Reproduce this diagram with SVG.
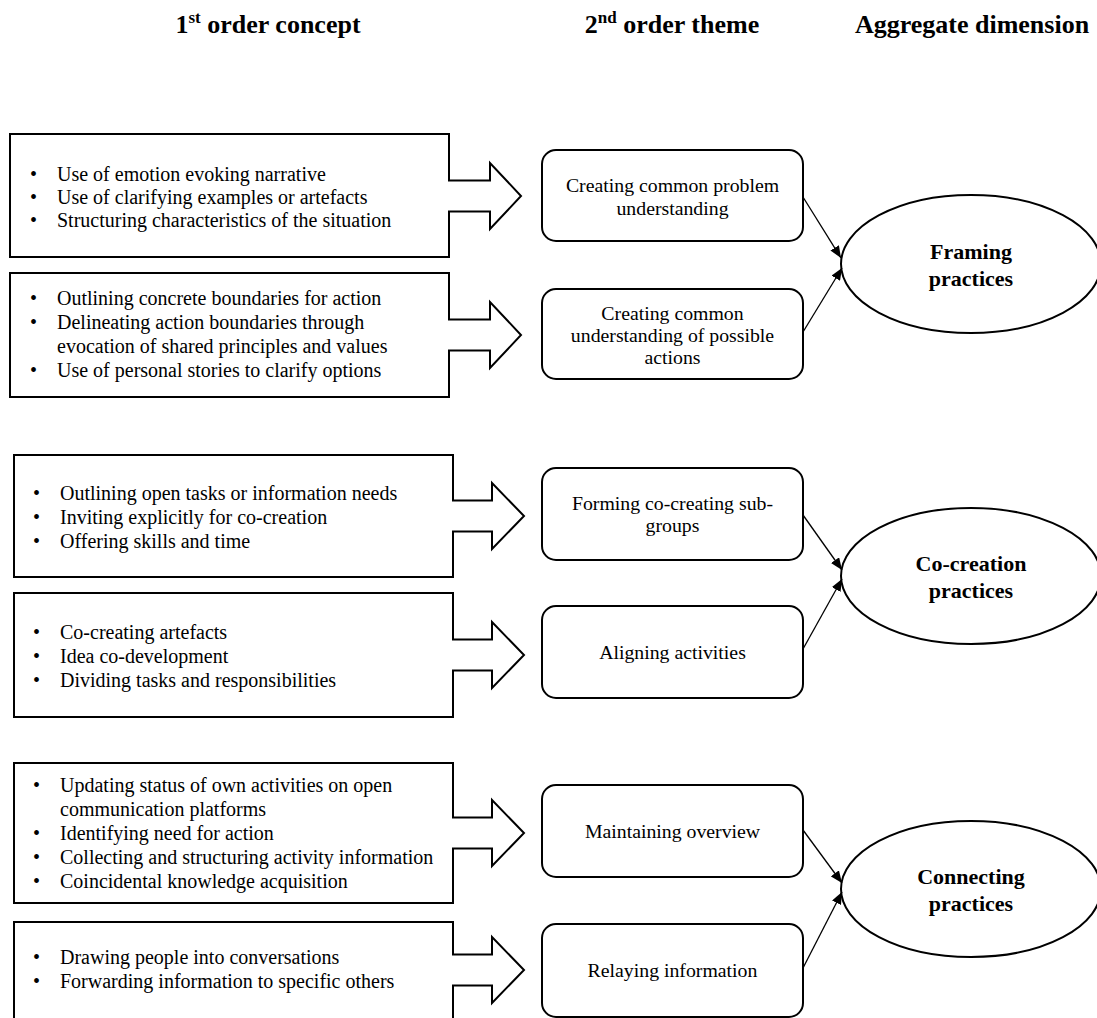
<svg xmlns="http://www.w3.org/2000/svg" width="1097" height="1018" viewBox="0 0 1097 1018">
<style>
  text { font-family: "Liberation Serif", "Times New Roman", serif; fill: #000; }
  .hdr { font-size: 26px; font-weight: bold; text-anchor: middle; }
  .sup { font-size: 17px; }
  .body { font-size: 20px; }
  .theme { font-size: 19.8px; text-anchor: middle; }
  .agg { font-size: 22px; font-weight: bold; text-anchor: middle; }
  .box { fill: #fff; stroke: #000; stroke-width: 2; stroke-linejoin: miter; }
  .rbox { fill: #fff; stroke: #000; stroke-width: 2; }
  .ell { fill: #fff; stroke: #000; stroke-width: 2; }
  .conn { stroke: #000; stroke-width: 1.3; fill: none; marker-end: url(#ah); }
</style>
<defs>
  <marker id="ah" viewBox="0 0 12 10" refX="12" refY="5" markerWidth="12" markerHeight="10" orient="auto" markerUnits="userSpaceOnUse">
    <path d="M0,0 L12,5 L0,10 Z" fill="#000"/>
  </marker>
</defs>
<rect width="1097" height="1018" fill="#fff"/>

<g id="headers">
  <text class="hdr" x="268" y="33">1<tspan class="sup" dy="-10">st</tspan><tspan dy="10"> order concept</tspan></text>
  <text class="hdr" x="672" y="33">2<tspan class="sup" dy="-10">nd</tspan><tspan dy="10"> order theme</tspan></text>
  <text class="hdr" x="972" y="33">Aggregate dimension</text>
</g>

<!-- First order concepts -->
<g id="c1">
  <path class="box" d="M10,134 H449 V180.5 H490 V163 L521,196 L490,229 V211.5 H449 V257 H10 Z"/>
  <text class="body" x="30" y="181">•</text><text class="body" x="57" y="181">Use of emotion evoking narrative</text>
  <text class="body" x="30" y="204">•</text><text class="body" x="57" y="204">Use of clarifying examples or artefacts</text>
  <text class="body" x="30" y="227">•</text><text class="body" x="57" y="227">Structuring characteristics of the situation</text>
</g>
<g id="c2">
  <path class="box" d="M10,273 H449 V319.5 H490 V302 L521,335 L490,368 V350.5 H449 V397 H10 Z"/>
  <text class="body" x="30" y="305">•</text><text class="body" x="57" y="305">Outlining concrete boundaries for action</text>
  <text class="body" x="30" y="329">•</text><text class="body" x="57" y="329">Delineating action boundaries through</text>
  <text class="body" x="57" y="353">evocation of shared principles and values</text>
  <text class="body" x="30" y="377">•</text><text class="body" x="57" y="377">Use of personal stories to clarify options</text>
</g>
<g id="c3">
  <path class="box" d="M14,455 H453 V500.5 H492 V483 L524,516 L492,549 V531.5 H453 V577 H14 Z"/>
  <text class="body" x="33" y="500">•</text><text class="body" x="60" y="500">Outlining open tasks or information needs</text>
  <text class="body" x="33" y="524">•</text><text class="body" x="60" y="524">Inviting explicitly for co-creation</text>
  <text class="body" x="33" y="548">•</text><text class="body" x="60" y="548">Offering skills and time</text>
</g>
<g id="c4">
  <path class="box" d="M14,593 H453 V639.5 H492 V622 L524,655 L492,688 V670.5 H453 V717 H14 Z"/>
  <text class="body" x="33" y="639">•</text><text class="body" x="60" y="639">Co-creating artefacts</text>
  <text class="body" x="33" y="663">•</text><text class="body" x="60" y="663">Idea co-development</text>
  <text class="body" x="33" y="687">•</text><text class="body" x="60" y="687">Dividing tasks and responsibilities</text>
</g>
<g id="c5">
  <path class="box" d="M14,763 H453 V817.5 H492 V800 L524,833 L492,866 V848.5 H453 V903 H14 Z"/>
  <text class="body" x="33" y="792">•</text><text class="body" x="60" y="792">Updating status of own activities on open</text>
  <text class="body" x="60" y="816">communication platforms</text>
  <text class="body" x="33" y="840">•</text><text class="body" x="60" y="840">Identifying need for action</text>
  <text class="body" x="33" y="864">•</text><text class="body" x="60" y="864">Collecting and structuring activity information</text>
  <text class="body" x="33" y="888">•</text><text class="body" x="60" y="888">Coincidental knowledge acquisition</text>
</g>
<g id="c6">
  <path class="box" d="M14,922 H453 V954.5 H492 V937 L524,970 L492,1003 V985.5 H453 V1030 H14 Z"/>
  <text class="body" x="33" y="964">•</text><text class="body" x="60" y="964">Drawing people into conversations</text>
  <text class="body" x="33" y="988">•</text><text class="body" x="60" y="988">Forwarding information to specific others</text>
</g>

<!-- Second order themes -->
<g id="t1">
  <rect class="rbox" x="542" y="150" width="261" height="91" rx="14"/>
  <text class="theme" x="672.5" y="192">Creating common problem</text>
  <text class="theme" x="672.5" y="215">understanding</text>
</g>
<g id="t2">
  <rect class="rbox" x="542" y="289" width="261" height="90" rx="14"/>
  <text class="theme" x="672.5" y="320">Creating common</text>
  <text class="theme" x="672.5" y="342">understanding of possible</text>
  <text class="theme" x="672.5" y="364">actions</text>
</g>
<g id="t3">
  <rect class="rbox" x="542" y="468" width="261" height="92" rx="14"/>
  <text class="theme" x="672.5" y="510">Forming co-creating sub-</text>
  <text class="theme" x="672.5" y="532">groups</text>
</g>
<g id="t4">
  <rect class="rbox" x="542" y="606" width="261" height="92" rx="14"/>
  <text class="theme" x="672.5" y="659">Aligning activities</text>
</g>
<g id="t5">
  <rect class="rbox" x="542" y="785" width="261" height="92" rx="14"/>
  <text class="theme" x="672.5" y="838">Maintaining overview</text>
</g>
<g id="t6">
  <rect class="rbox" x="542" y="924" width="261" height="93" rx="14"/>
  <text class="theme" x="672.5" y="977">Relaying information</text>
</g>

<!-- Aggregate dimensions -->
<g id="a1">
  <ellipse class="ell" cx="971" cy="264" rx="130" ry="69"/>
  <text class="agg" x="971" y="259">Framing</text>
  <text class="agg" x="971" y="286">practices</text>
</g>
<g id="a2">
  <ellipse class="ell" cx="971" cy="576" rx="130" ry="68"/>
  <text class="agg" x="971" y="571">Co-creation</text>
  <text class="agg" x="971" y="598">practices</text>
</g>
<g id="a3">
  <ellipse class="ell" cx="971" cy="889" rx="130" ry="68"/>
  <text class="agg" x="971" y="884">Connecting</text>
  <text class="agg" x="971" y="911">practices</text>
</g>

<g id="connectors">
  <line class="conn" x1="803" y1="197" x2="841" y2="258"/>
  <line class="conn" x1="803" y1="332" x2="842" y2="268"/>
  <line class="conn" x1="803" y1="515" x2="842" y2="570"/>
  <line class="conn" x1="803" y1="649" x2="842" y2="579"/>
  <line class="conn" x1="803" y1="830" x2="842" y2="883"/>
  <line class="conn" x1="803" y1="968" x2="842" y2="892"/>
</g>
</svg>
